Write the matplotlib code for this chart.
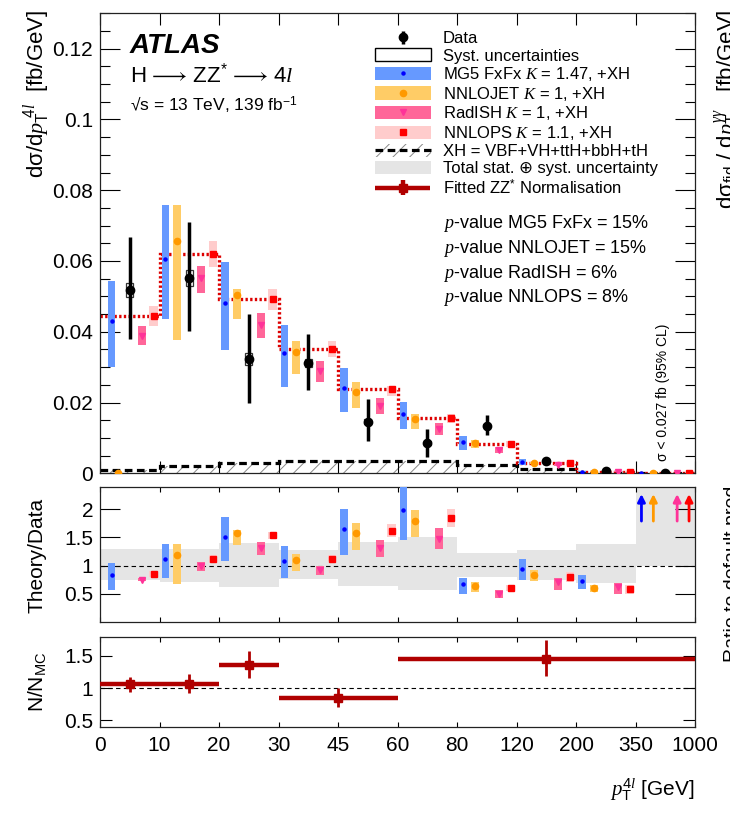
import numpy as np
import matplotlib
matplotlib.use("Agg")
import matplotlib.pyplot as plt
from matplotlib.patches import Patch
from matplotlib.lines import Line2D
from matplotlib.legend_handler import HandlerErrorbar
from matplotlib.ticker import FuncFormatter, MultipleLocator

plt.rcParams['font.family'] = ['Liberation Sans', 'DejaVu Sans']
plt.rcParams['mathtext.fontset'] = 'custom'
plt.rcParams['mathtext.rm'] = 'Liberation Sans'
plt.rcParams['mathtext.sf'] = 'Liberation Sans'
plt.rcParams['mathtext.it'] = 'Liberation Serif:italic'
plt.rcParams['mathtext.bf'] = 'Liberation Sans:bold'
plt.rcParams['hatch.linewidth'] = 0.7

# ---------------- data ----------------
pt_edges = [0, 10, 20, 30, 45, 60, 80, 120, 200, 350, 1000]
pt_edge_labels = ['0', '10', '20', '30', '45', '60', '80', '120', '200', '350', '1000']

data = [0.0518, 0.0551, 0.0322, 0.0311, 0.0146, 0.0085, 0.0134, 0.0034, 0.0007, 0.0]
data_up = [0.0149, 0.0158, 0.0128, 0.0082, 0.0063, 0.0039, 0.0031, 0.0006, 0.0002, 0.0001]
data_dn = [0.0138, 0.0150, 0.0122, 0.0076, 0.0054, 0.0040, 0.0026, 0.0005, 0.0002, 0.0]
data_syst = [0.0021, 0.0023, 0.0017, 0.0011, 0.0008, 0.0005, 0.0004, 0.0002, 0.0001, 0.0]

mg5 = [0.0431, 0.0607, 0.0480, 0.0339, 0.0241, 0.0169, 0.0088, 0.0032, 0.0005, 0.0001]
mg5_lo = [0.0301, 0.0437, 0.0348, 0.0245, 0.0172, 0.0124, 0.0066, 0.0023, 0.0004, 0.0]
mg5_hi = [0.0544, 0.0757, 0.0598, 0.0419, 0.0298, 0.0202, 0.0105, 0.0040, 0.0006, 0.0002]

nnlojet = [0.0, 0.0656, 0.0504, 0.0342, 0.0229, 0.0153, 0.0085, 0.0028, 0.0005, 0.0001]
nnlojet_lo = [0.0, 0.0377, 0.0437, 0.0280, 0.0185, 0.0126, 0.0071, 0.0025, 0.0004, 0.0]
nnlojet_hi = [0.0, 0.0757, 0.0520, 0.0374, 0.0259, 0.0169, 0.0094, 0.0031, 0.0006, 0.0001]

radish = [0.0389, 0.0553, 0.0418, 0.0289, 0.0191, 0.0124, 0.0066, 0.0024, 0.0005, 0.0001]
radish_lo = [0.0364, 0.0510, 0.0383, 0.0259, 0.0167, 0.0108, 0.0058, 0.0020, 0.0004, 0.0]
radish_hi = [0.0416, 0.0586, 0.0454, 0.0318, 0.0214, 0.0141, 0.0075, 0.0027, 0.0006, 0.0001]

nnlops = [0.0445, 0.0619, 0.0492, 0.0351, 0.0237, 0.0155, 0.0082, 0.0028, 0.0005, 0.0001]
nnlops_lo = [0.0416, 0.0582, 0.0461, 0.0329, 0.0218, 0.0143, 0.0075, 0.0025, 0.0004, 0.0]
nnlops_hi = [0.0473, 0.0656, 0.0520, 0.0374, 0.0247, 0.0167, 0.0090, 0.0031, 0.0006, 0.0001]

xh = [0.00085, 0.0021, 0.0028, 0.0034, 0.0036, 0.0034, 0.0023, 0.0011, 0.0003, 0.0001]

nan = np.nan
r_mg5 = [0.83, 1.11, 1.51, 1.09, 1.65, 1.99, 0.67, 0.94, 0.72, nan]
r_mg5_lo = [0.57, 0.78, 1.08, 0.78, 1.18, 1.46, 0.49, 0.74, 0.59, nan]
r_mg5_hi = [1.04, 1.38, 1.87, 1.34, 2.01, 2.45, 0.78, 1.11, 0.83, nan]
r_nnlojet = [nan, 1.19, 1.57, 1.10, 1.57, 1.80, 0.63, 0.84, 0.61, nan]
r_nnlojet_lo = [nan, 0.67, 1.36, 0.90, 1.27, 1.50, 0.53, 0.73, 0.54, nan]
r_nnlojet_hi = [nan, 1.38, 1.63, 1.20, 1.75, 1.99, 0.71, 0.93, 0.66, nan]
r_radish = [0.75, 0.99, 1.31, 0.92, 1.31, 1.47, 0.50, 0.71, 0.62, nan]
r_radish_lo = [0.72, 0.90, 1.19, 0.83, 1.15, 1.29, 0.43, 0.57, 0.50, nan]
r_radish_hi = [0.78, 1.07, 1.42, 1.00, 1.45, 1.67, 0.57, 0.78, 0.69, nan]
r_nnlops = [0.86, 1.12, 1.54, 1.125, 1.62, 1.85, 0.61, 0.80, 0.58, nan]
r_nnlops_lo = [0.79, 1.05, 1.47, 1.08, 1.50, 1.68, 0.55, 0.71, 0.50, nan]
r_nnlops_hi = [0.90, 1.19, 1.60, 1.19, 1.73, 2.00, 0.66, 0.88, 0.66, nan]

band_lo = [0.74, 0.71, 0.62, 0.755, 0.63, 0.56, 0.80, 0.75, 0.69, 1.0]
band_hi = [1.29, 1.29, 1.40, 1.27, 1.42, 1.51, 1.225, 1.27, 1.38, 2.4]

norm_pt_lo = [0, 10, 20, 30, 60]
norm_pt_hi = [10, 20, 30, 60, 1000]
norm_pt_c = [5, 15, 25, 45, 160]
norm = [1.06, 1.06, 1.36, 0.84, 1.46]
norm_up = [0.12, 0.16, 0.22, 0.16, 0.29]
norm_dn = [0.12, 0.14, 0.21, 0.14, 0.27]

pvalues = [('MG5 FxFx', 15), ('NNLOJET', 15), ('RadISH', 6), ('NNLOPS', 8)]

# ---------------- style ----------------
c_mg5, c_mg5_m = '#6699ff', '#0000ff'
c_nnj, c_nnj_m = '#ffcc66', '#ff9900'
c_rad, c_rad_m = '#ff6699', '#ff3399'
c_nlp, c_nlp_m = '#ffcccc', '#ff0000'
c_band = '#e5e5e5'
c_fit = '#b00000'

W, H = 730, 814
def fx(px): return px / W
def fy(py): return 1 - py / H

fig = plt.figure(figsize=(W / 100, H / 100), dpi=100)
ax1 = fig.add_axes([fx(100), fy(473.3), 595 / W, 460 / H])
ax2 = fig.add_axes([fx(100), fy(622), 595 / W, 135.3 / H])
ax3 = fig.add_axes([fx(100), fy(726.7), 595 / W, 90 / H])

nb = len(data)
idx = np.arange(nb)
edges = np.arange(nb + 1)
off_mg5 = np.full(nb, 0.1); off_mg5[0] = 0.2
x_mg5, x_nnj, x_dat, x_rad, x_nlp = idx + off_mg5, idx + 0.3, idx + 0.5, idx + 0.7, idx + 0.9
arr = np.asarray

# ---------------- main panel ----------------
ax1.bar(idx + 0.5, xh, width=1.0, facecolor='none', edgecolor='#888888',
        hatch='//', linewidth=0, zorder=1)
ax1.stairs(xh, edges, baseline=None, color='black', lw=2.3, ls=(0, (2.4, 1.4)), zorder=2)
ax1.stairs(nnlops, edges, baseline=None, color='#dd0000', lw=2.4, ls=(0, (0.7, 0.7)), zorder=2)

def theory(ax, x, v, lo, hi, w, cbar, cm, marker, ms):
    v, lo, hi = arr(v, float), arr(lo, float), arr(hi, float)
    ax.bar(x, hi - lo, bottom=lo, width=w, color=cbar, lw=0, zorder=3)
    ax.plot(x, v, ls='none', marker=marker, ms=ms, color=cm, mec=cm, zorder=4)

theory(ax1, x_mg5, mg5, mg5_lo, mg5_hi, 0.12, c_mg5, c_mg5_m, 'o', 2.2)
theory(ax1, x_nnj, nnlojet, nnlojet_lo, nnlojet_hi, 0.13, c_nnj, c_nnj_m, 'o', 4.5)
theory(ax1, x_rad, radish, radish_lo, radish_hi, 0.13, c_rad, c_rad_m, 'v', 5)
theory(ax1, x_nlp, nnlops, nnlops_lo, nnlops_hi, 0.14, c_nlp, c_nlp_m, 's', 4.5)

dat = arr(data)
syst = arr(data_syst)
ax1.bar(x_dat, 2 * syst, bottom=dat - syst, width=0.12, facecolor='none',
        edgecolor='#333333', lw=0.9, zorder=5)
data_h = ax1.errorbar(x_dat, data, yerr=[data_dn, data_up], fmt='o', ms=6,
                      color='black', elinewidth=2.5, capsize=0, zorder=6)

ax1.set_xlim(0, nb)
ax1.set_ylim(0, 0.13)
ax1.set_xticks(edges)
ax1.set_xticklabels([])
ax1.yaxis.set_major_locator(MultipleLocator(0.02))
ax1.yaxis.set_minor_locator(MultipleLocator(0.005))
ax1.yaxis.set_major_formatter(FuncFormatter(lambda v, p: f'{v:g}'))
ax1.tick_params(axis='x', which='major', direction='in', top=True, length=8.6, width=0.8)
ax1.tick_params(axis='y', which='major', direction='in', right=True, length=14.4, width=0.8,
                labelsize=15, pad=5)
ax1.tick_params(axis='y', which='minor', direction='in', right=True, length=7.2, width=0.8)

# texts
fig.text(fx(130), fy(53), 'ATLAS', fontsize=20, fontweight='bold', fontstyle='italic',
         va='baseline')
fig.text(fx(130), fy(83), 'H$\\,\\longrightarrow\\,$ZZ$^{*}$$\\,\\longrightarrow\\,$4$l$',
         fontsize=16, va='baseline')
fig.text(fx(130), fy(111), '√s = 13 TeV, 139 fb$^{-1}$', fontsize=12.5, va='baseline')
for i, (name, pv) in enumerate(pvalues):
    fig.text(fx(443), fy(228 + 24.8 * i), f'$p$-value {name} = {pv}%', fontsize=13,
             va='baseline')
fig.text(fx(663), fy(461), 'σ < 0.027 fb (95% CL)', rotation=90, fontsize=10,
         ha='center', va='bottom')

# ---------------- ratio panel ----------------
ax2.stairs(band_hi, edges, baseline=band_lo, fill=True, color=c_band, lw=0, zorder=1)
ax2.axhline(1, color='black', lw=0.8, ls=(0, (4, 3)), zorder=2)
theory(ax2, x_mg5, r_mg5, r_mg5_lo, r_mg5_hi, 0.12, c_mg5, c_mg5_m, 'o', 2.2)
theory(ax2, x_nnj, r_nnlojet, r_nnlojet_lo, r_nnlojet_hi, 0.13, c_nnj, c_nnj_m, 'o', 4.5)
theory(ax2, x_rad, r_radish, r_radish_lo, r_radish_hi, 0.13, c_rad, c_rad_m, 'v', 5)
theory(ax2, x_nlp, r_nnlops, r_nnlops_lo, r_nnlops_hi, 0.14, c_nlp, c_nlp_m, 's', 4.5)

# predictions off scale in the last bin (data = 0)
last = nb - 1
for xa, ca in [(x_mg5[last], c_mg5_m), (x_nnj[last], c_nnj_m),
               (x_rad[last], c_rad_m), (x_nlp[last], c_nlp_m)]:
    ax2.annotate('', xy=(xa, 2.27), xytext=(xa, 1.79),
                 arrowprops=dict(arrowstyle='-|>', color=ca, lw=2.0, mutation_scale=11,
                                 shrinkA=0, shrinkB=0), zorder=5)

ax2.set_xlim(0, nb)
ax2.set_ylim(0, 2.4)
ax2.set_xticks(edges)
ax2.set_xticklabels([])
ax2.set_yticks([0.5, 1, 1.5, 2])
ax2.yaxis.set_major_formatter(FuncFormatter(lambda v, p: f'{v:g}'))
ax2.tick_params(axis='x', direction='in', top=True, length=3.6, width=0.8)
ax2.tick_params(axis='y', direction='in', right=True, length=14.4, width=0.8,
                labelsize=15, pad=5)

# ---------------- fitted normalisation panel ----------------
def to_idx(pt):
    return np.interp(pt, pt_edges, edges)

nc = to_idx(norm_pt_c)
nlo = to_idx(norm_pt_lo)
nhi = to_idx(norm_pt_hi)
ax3.axhline(1, color='black', lw=0.8, ls=(0, (4, 3)), zorder=1)
fit_h = ax3.errorbar(nc, norm, xerr=[nc - nlo, nhi - nc], yerr=[norm_dn, norm_up],
                     fmt='s', ms=5.5, color=c_fit, elinewidth=3.2, capsize=0, zorder=3)
fit_h[2][1].set_linewidth(2.0)
ax3.set_xlim(0, nb)
ax3.set_ylim(0.4, 1.8)
ax3.set_xticks(edges)
ax3.set_xticklabels(pt_edge_labels)
ax3.set_yticks([0.5, 1, 1.5])
ax3.yaxis.set_major_formatter(FuncFormatter(lambda v, p: f'{v:g}'))
ax3.tick_params(axis='x', direction='in', top=True, length=3.6, width=0.8,
                labelsize=15, pad=7)
ax3.tick_params(axis='y', direction='in', right=True, length=8.6, width=0.8,
                labelsize=15, pad=5)

for ax in (ax1, ax2, ax3):
    for s in ax.spines.values():
        s.set_linewidth(0.9)
        s.set_color('#222222')

# axis titles
fig.text(fx(37), fy(10), 'dσ/d$p_{\\mathrm{T}}^{\\ 4l}$  [fb/GeV]', rotation=90, fontsize=16,
         ha='center', va='top')
fig.text(fx(37), fy(555), 'Theory/Data', rotation=90, fontsize=15, ha='center', va='center')
fig.text(fx(37), fy(682), 'N/N$_{\\mathrm{MC}}$', rotation=90, fontsize=15, ha='center',
         va='center')
fig.text(fx(695), fy(790), '$p_{\\mathrm{T}}^{4l}$ [GeV]', fontsize=15, ha='right',
         va='center')

# neighbouring panel titles at the right edge
fig.text(fx(712), fy(10), 'dσ$_{\\mathrm{fid}}$ / d$p_{\\mathrm{T}}^{\\gamma\\gamma}$   [fb/GeV]',
         rotation=90, fontsize=16, ha='left', va='top')
fig.text(fx(724), fy(662), 'Ratio to default pred.', rotation=90, fontsize=14,
         ha='left', va='bottom')

# ---------------- legend ----------------
h_syst = Patch(facecolor='white', edgecolor='black', lw=1)
h_mg5 = (Patch(facecolor=c_mg5, lw=0), Line2D([], [], ls='none', marker='o', ms=2.2, color=c_mg5_m))
h_nnj = (Patch(facecolor=c_nnj, lw=0), Line2D([], [], ls='none', marker='o', ms=4.5, color=c_nnj_m))
h_rad = (Patch(facecolor=c_rad, lw=0), Line2D([], [], ls='none', marker='v', ms=5, color=c_rad_m))
h_nlp = (Patch(facecolor=c_nlp, lw=0), Line2D([], [], ls='none', marker='s', ms=4.5, color=c_nlp_m))
h_xh = (Patch(facecolor='none', edgecolor='#888888', hatch='//', lw=0),
        Line2D([], [], color='black', lw=2.3, ls=(0, (2.4, 1.4))))
h_tot = Patch(facecolor=c_band, lw=0)

handles = [data_h, h_syst, h_mg5, h_nnj, h_rad, h_nlp, h_xh, h_tot, fit_h]
labels = ['Data', 'Syst. uncertainties', 'MG5 FxFx $K$ = 1.47, +XH', 'NNLOJET $K$ = 1, +XH',
          'RadISH $K$ = 1, +XH', 'NNLOPS $K$ = 1.1, +XH', 'XH = VBF+VH+ttH+bbH+tH',
          'Total stat. ⊕ syst. uncertainty', 'Fitted ZZ$^{*}$ Normalisation']
leg = ax1.legend(handles, labels, loc='upper left', bbox_to_anchor=(fx(375), fy(31)),
                 bbox_transform=fig.transFigure, frameon=False, fontsize=12,
                 handlelength=3.35, handleheight=0.85, handletextpad=0.7,
                 labelspacing=0.1, borderpad=0, borderaxespad=0,
                 handler_map={data_h: HandlerErrorbar(xerr_size=0.4, yerr_size=0.4),
                              fit_h: HandlerErrorbar(xerr_size=1.65, yerr_size=0.45)})

fig.savefig('out.png', dpi=100, facecolor='white')
